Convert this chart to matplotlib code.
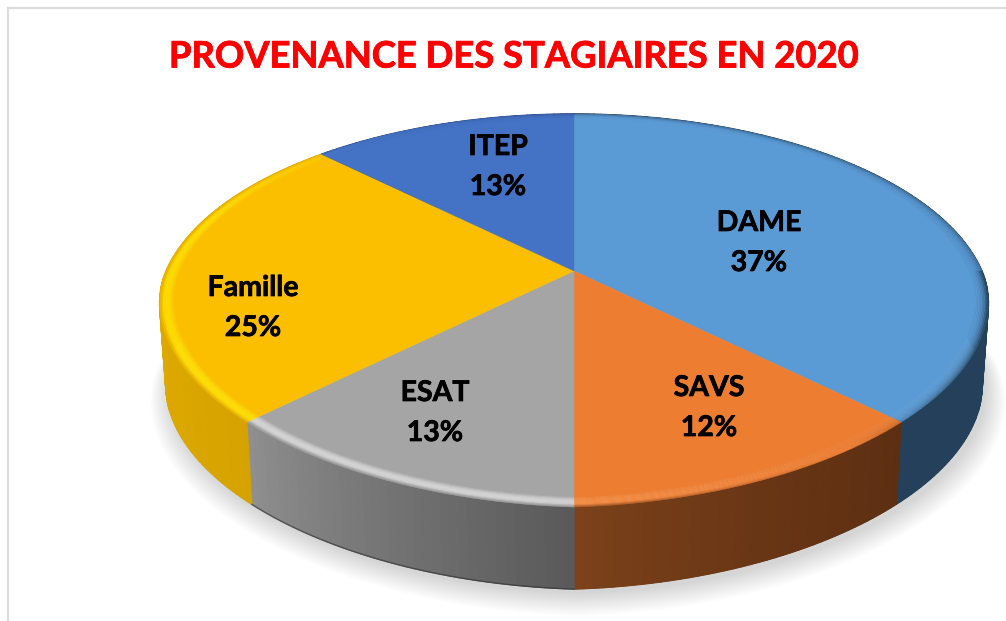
import numpy as np
import matplotlib
matplotlib.use("Agg")
import matplotlib.pyplot as plt
import matplotlib.patheffects as pe
from matplotlib.collections import PolyCollection
from matplotlib.colors import to_rgb

# ---- data ----
names = ["DAME", "SAVS", "ESAT", "Famille", "ITEP"]
counts = [3, 1, 1, 2, 1]
pct_labels = ["37%", "12%", "13%", "25%", "13%"]
title = "PROVENANCE DES STAGIAIRES EN 2020"

# ---- style ----
top_colors = ["#5B9BD5", "#ED7D31", "#A5A5A5", "#FBBF00", "#4472C4"]
hi_colors = ["#6FAEE5", "#F58C42", "#D4D4D4", "#FFDE00", "#5A88D8"]
side_left = ["#24405A", "#7E431B", "#909090", "#DDA900", "#2A4680"]
side_right = ["#24405A", "#5D2F12", "#595959", "#D09E00", "#2A4680"]
label_pos = [(759, 223), (709, 388), (435, 393), (253, 288), (498, 147)]
line_gap = 40

W, H = 1006, 621
CX, CY = 574, 271
A, B, K = 408.0, 188.6, 0.201
DEPTH, SX = 82, 0.985

plt.rcParams["font.family"] = ["Lato", "DejaVu Sans"]
fig = plt.figure(figsize=(W / 100, H / 100), dpi=100, facecolor="white")
ax = fig.add_axes([0, 0, 1, 1])
ax.set_xlim(0, W)
ax.set_ylim(H, 0)
ax.axis("off")


def project(theta, r=1.0):
    """Perspective view of a point on the unit disc; theta clockwise from top."""
    X, Y = r * np.sin(theta), r * np.cos(theta)
    d = 1 + K * Y
    # the drawn rim is slightly flattened toward the two front corners
    f = 1 - 0.023 * 2 * np.abs(np.sin(theta)) * np.clip(-np.cos(theta), 0, None) ** 1.5 * 1.4
    return CX + f * A * X / d, CY - f * B * Y / d


def lower(x, y):
    return CX + (x - CX) * SX, y + DEPTH


def mix(c1, c2, t):
    t = np.clip(t, 0, 1)
    return tuple((1 - t) * a + t * b for a, b in zip(c1, c2))


# frame
ax.plot([8.5, 8.5], [621, 8], color="#DCDCDC", lw=1.6, zorder=1)
ax.plot([8, 1006], [8, 8], color="#DCDCDC", lw=1.6, zorder=1)

# soft shadow
full = np.linspace(0, 2 * np.pi, 361)
xs, ys = project(full)
xl, yl = lower(xs, ys)
for i in range(14):
    g = 1 + (13 - i) * 0.0036
    px = CX + (xl - CX) * g + 4
    py = (yl - 400) * g + 400 + 5 + (13 - i) * 1.0
    ax.fill(px, py, color="#000000", alpha=0.013, lw=0, zorder=2)

fractions = np.array(counts, float) / sum(counts)
edges = np.concatenate([[0], np.cumsum(fractions)]) * 2 * np.pi

# sides
quads, cols = [], []
for i in range(len(names)):
    t = np.linspace(edges[i], edges[i + 1], int(counts[i]) * 40 + 1)
    x, y = project(t)
    xb, yb = lower(x, y)
    xmin, xmax = x.min(), x.max()
    ax.fill(np.r_[x, xb[::-1]], np.r_[y, yb[::-1]], color=side_right[i], lw=0.5, zorder=3)
    for j in range(len(t) - 1):
        quads.append([(x[j], y[j]), (x[j + 1], y[j + 1]), (xb[j + 1], yb[j + 1]), (xb[j], yb[j])])
        u = (0.5 * (x[j] + x[j + 1]) - xmin) / max(xmax - xmin, 1)
        cols.append(mix(to_rgb(side_left[i]), to_rgb(side_right[i]), u ** 0.8))
    if names[i] == "ESAT":
        ax.plot(xb, yb, color="#303030", lw=1.0, alpha=0.6, zorder=4)
ax.add_collection(PolyCollection(quads, facecolors=cols, edgecolors=cols, linewidths=1.0, zorder=3.5))

# top faces
R_IN = 0.965
for i in range(len(names)):
    t = np.linspace(edges[i], edges[i + 1], int(counts[i]) * 40 + 1)
    x, y = project(t, R_IN + 0.002)
    ax.fill(np.r_[CX, x], np.r_[CY, y], color=top_colors[i], lw=0.3, zorder=5)

# bevel on the rim
radii = np.linspace(R_IN, 1.0, 11)
quads, cols = [], []
for i in range(len(names)):
    t = np.linspace(edges[i], edges[i + 1], int(counts[i]) * 30 + 1)
    base, hi = to_rgb(top_colors[i]), to_rgb(hi_colors[i])
    dark = to_rgb(side_right[i])
    sidec = to_rgb(side_left[i])
    for j in range(len(t) - 1):
        tm = 0.5 * (t[j] + t[j + 1])
        L = np.cos(tm - np.deg2rad(235))
        back = 0.45 if np.cos(tm) > 0 else 1.0
        for k in range(len(radii) - 1):
            u = (k + 0.5) / (len(radii) - 1)
            x0, y0 = project(t[j], radii[k]); x1, y1 = project(t[j + 1], radii[k])
            x2, y2 = project(t[j + 1], radii[k + 1]); x3, y3 = project(t[j], radii[k + 1])
            quads.append([(x0, y0), (x1, y1), (x2, y2), (x3, y3)])
            if L > 0:
                c = mix(base, hi, min(1, L * 1.6) * np.sin(np.pi * min(1, u * 0.95)) ** 1.1)
                c = mix(c, sidec, max(0, (u - 0.75) / 0.25) * 0.7 * min(1, L * 1.6))
            else:
                c = mix(base, dark, min(1, -L * 1.6) * back * u ** 3)
            cols.append(c)
ax.add_collection(PolyCollection(quads, facecolors=cols, edgecolors=cols, linewidths=0.3, zorder=6))

# text
ax.text(513, 57, title, color="#FF0000", fontsize=26.2, fontweight="bold", ha="center", va="center", zorder=8,
        path_effects=[pe.withStroke(linewidth=0.6, foreground="#FF0000")])
heavy = [pe.withStroke(linewidth=0.5, foreground="black")]
for name, pct, (lx, ly) in zip(names, pct_labels, label_pos):
    ax.text(lx, ly, name, color="black", fontsize=20.5, fontweight="bold", ha="center", va="center", zorder=8, path_effects=heavy)
    ax.text(lx, ly + line_gap, pct, color="black", fontsize=20.5, fontweight="bold", ha="center", va="center", zorder=8, path_effects=heavy)

fig.savefig("out.png", dpi=100, facecolor="white")
